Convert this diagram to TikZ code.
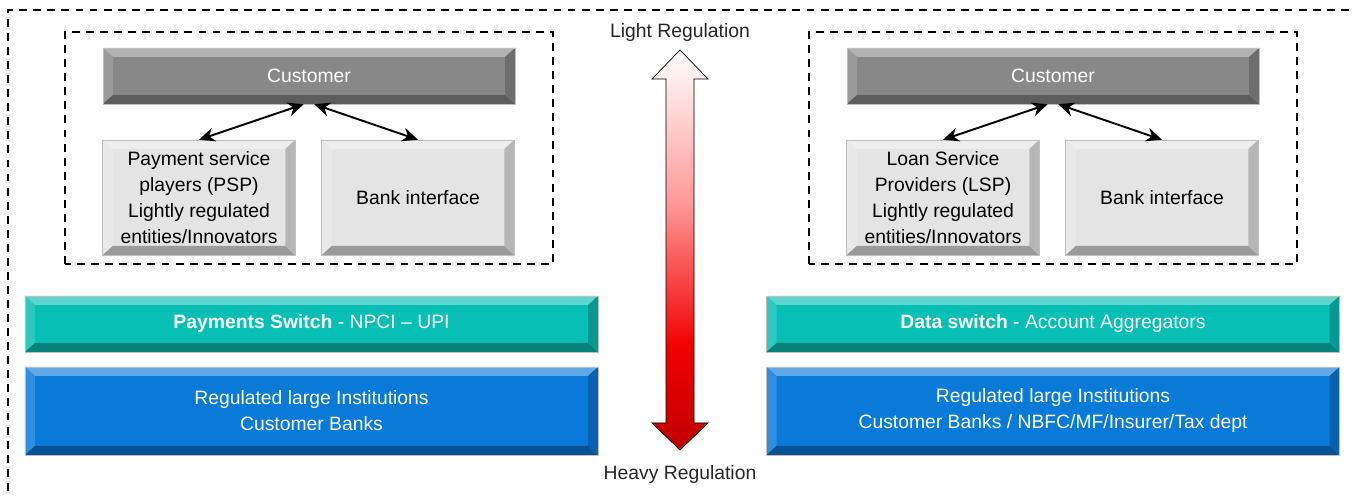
\documentclass[tikz,border=0pt]{standalone}
\usepackage{fontspec}
\setmainfont{Liberation Sans}
\usetikzlibrary{arrows.meta}

\definecolor{custgray}{HTML}{888888}
\definecolor{boxgray}{HTML}{E4E4E4}
\definecolor{switchteal}{HTML}{08BFB5}
\definecolor{bankblue}{HTML}{0A7AD9}

% vertical fade used by the regulation arrow (box maps to 25bp..75bp)
\pgfdeclareverticalshading{regshade}{100bp}{color(0bp)=(red!75!black); color(25bp)=(red!75!black); color(38bp)=(red!95!black); color(56bp)=(red!40!white); color(75bp)=(white); color(100bp)=(white)}

\tikzset{
  bevel/.style={fill=#1, draw=black!25, line width=0.3pt, inner sep=0pt, align=center,
    path picture={
      \fill[#1!65!white] (path picture bounding box.north west) -- (path picture bounding box.north east)
        -- ([shift={(-0.2,-0.18)}]path picture bounding box.north east) -- ([shift={(0.2,-0.18)}]path picture bounding box.north west) -- cycle;
      \fill[#1!85!white] (path picture bounding box.north west) -- ([shift={(0.2,-0.18)}]path picture bounding box.north west)
        -- ([shift={(0.2,0.18)}]path picture bounding box.south west) -- (path picture bounding box.south west) -- cycle;
      \fill[#1!68!black] (path picture bounding box.south west) -- ([shift={(0.2,0.18)}]path picture bounding box.south west)
        -- ([shift={(-0.2,0.18)}]path picture bounding box.south east) -- (path picture bounding box.south east) -- cycle;
      \fill[#1!80!black] (path picture bounding box.south east) -- ([shift={(-0.2,0.18)}]path picture bounding box.south east)
        -- ([shift={(-0.2,-0.18)}]path picture bounding box.north east) -- (path picture bounding box.north east) -- cycle;
    }},
  custbox/.style={bevel=custgray, text=white, minimum width=8.24cm, minimum height=1.12cm},
  rolebox/.style={bevel=boxgray, text=black, minimum width=3.85cm, minimum height=2.3cm},
  switchbar/.style={bevel=switchteal, text=white, minimum width=11.46cm, minimum height=1.12cm},
  bankbar/.style={bevel=bankblue, text=white, minimum width=11.46cm, minimum height=1.76cm},
  zone/.style={line width=1.1pt, dash pattern=on 4.5pt off 3.5pt},
  link/.style={{Stealth[length=9pt,width=8pt]}-{Stealth[length=9pt,width=8pt]}, line width=1.1pt},
}

\begin{document}
\begin{tikzpicture}[every node/.style={font=\fontsize{11}{14.8}\selectfont}]
  \useasboundingbox (0,0) rectangle (27.1,9.94);
  \clip (0,0) rectangle (27.1,9.94);

  % outer frame (runs off the page right and below)
  \draw[zone] (0.16,-1) -- (0.16,9.74) -- (28,9.74);

  % --- left: payments ---
  \begin{scope}[xshift=0cm]
    \draw[zone] (1.30,4.66) rectangle (11.06,9.30);
    \node[custbox] (cust) at (6.18,8.42) {Customer};
    \node[rolebox] (psp) at (3.98,5.99) {Payment service\\players (PSP)\\Lightly regulated\\entities/Innovators};
    \node[rolebox] (bank) at (8.36,5.99) {Bank interface};
    \draw[link] ([xshift=-3pt]cust.south) -- (psp.north);
    \draw[link] ([xshift=3pt]cust.south) -- (bank.north);

    \node[switchbar] (pswitch) at (6.23,3.46) {\textbf{Payments Switch} - NPCI -- UPI};
    \node[bankbar] (pbanks) at (6.23,1.72) {Regulated large Institutions\\Customer Banks};
  \end{scope}

  % --- right: data ---
  \begin{scope}[xshift=14.88cm]
    \draw[zone] (1.30,4.66) rectangle (11.06,9.30);
    \node[custbox] (cust2) at (6.18,8.42) {Customer};
    \node[rolebox] (lsp) at (3.98,5.99) {Loan Service\\Providers (LSP)\\Lightly regulated\\entities/Innovators};
    \node[rolebox] (bank2) at (8.36,5.99) {Bank interface};
    \draw[link] ([xshift=-3pt]cust2.south) -- (lsp.north);
    \draw[link] ([xshift=3pt]cust2.south) -- (bank2.north);

    \node[switchbar] (dswitch) at (6.18,3.46) {\textbf{Data switch} - Account Aggregators};
    \node[bankbar] (dbanks) at (6.18,1.72) {Regulated large Institutions\\Customer Banks / NBFC/MF/Insurer/Tax dept};
  \end{scope}

  % regulation scale
  \node[text=black!85] (light) at (13.6,9.28) {Light Regulation};
  \node[text=black!85] (heavy) at (13.6,0.44) {Heavy Regulation};
  \path[draw=black, line width=0.4pt, shading=regshade]
    (13.6,8.94) -- (14.16,8.36) -- (13.88,8.36) -- (13.88,1.48) -- (14.16,1.48) -- (13.6,0.94)
    -- (13.04,1.48) -- (13.32,1.48) -- (13.32,8.36) -- (13.04,8.36) -- cycle;
\end{tikzpicture}
\end{document}
